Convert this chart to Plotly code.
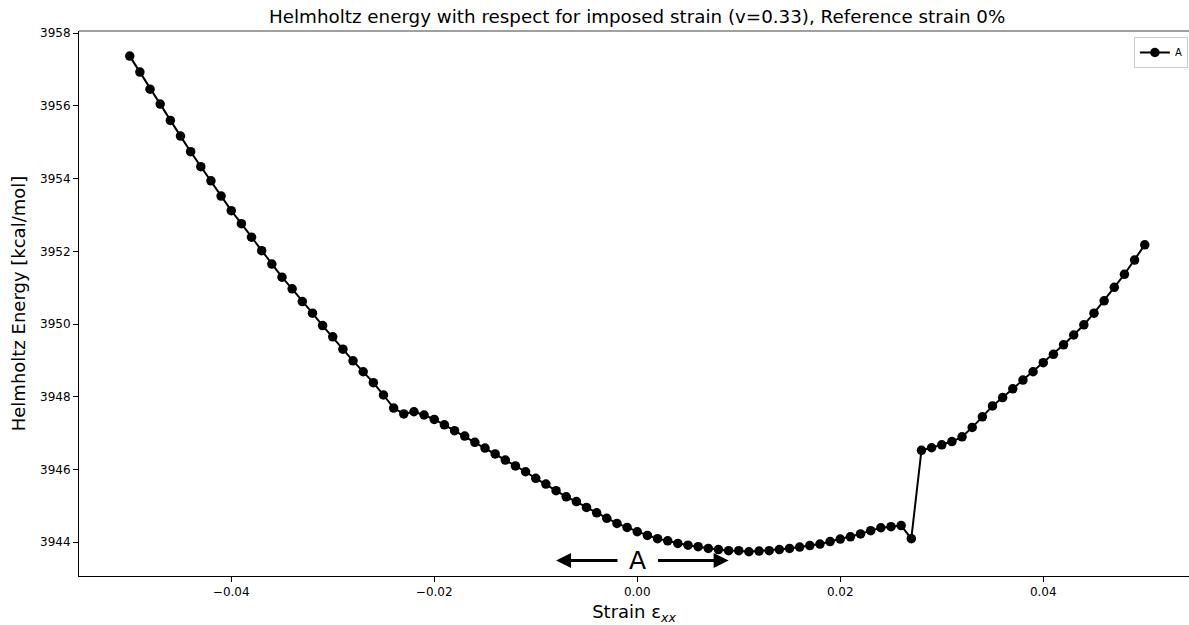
import plotly.graph_objects as go

# Imposed strain (exx) and Helmholtz energy [kcal/mol]
strain = [
    -0.050, -0.049, -0.048, -0.047, -0.046, -0.045, -0.044, -0.043, -0.042, -0.041,
    -0.040, -0.039, -0.038, -0.037, -0.036, -0.035, -0.034, -0.033, -0.032, -0.031,
    -0.030, -0.029, -0.028, -0.027, -0.026, -0.025, -0.024, -0.023, -0.022, -0.021,
    -0.020, -0.019, -0.018, -0.017, -0.016, -0.015, -0.014, -0.013, -0.012, -0.011,
    -0.010, -0.009, -0.008, -0.007, -0.006, -0.005, -0.004, -0.003, -0.002, -0.001,
    0.000, 0.001, 0.002, 0.003, 0.004, 0.005, 0.006, 0.007, 0.008, 0.009,
    0.010, 0.011, 0.012, 0.013, 0.014, 0.015, 0.016, 0.017, 0.018, 0.019,
    0.020, 0.021, 0.022, 0.023, 0.024, 0.025, 0.026, 0.027, 0.028, 0.029,
    0.030, 0.031, 0.032, 0.033, 0.034, 0.035, 0.036, 0.037, 0.038, 0.039,
    0.040, 0.041, 0.042, 0.043, 0.044, 0.045, 0.046, 0.047, 0.048, 0.049,
    0.050,
]

energy_A = [
    3957.37, 3956.93, 3956.46, 3956.05, 3955.60, 3955.17, 3954.74, 3954.33, 3953.94, 3953.52,
    3953.12, 3952.76, 3952.39, 3952.02, 3951.65, 3951.29, 3950.97, 3950.62, 3950.30, 3949.96,
    3949.65, 3949.31, 3948.99, 3948.69, 3948.39, 3948.05, 3947.69, 3947.53, 3947.59, 3947.50,
    3947.38, 3947.23, 3947.07, 3946.92, 3946.75, 3946.59, 3946.43, 3946.26, 3946.10, 3945.94,
    3945.76, 3945.60, 3945.42, 3945.25, 3945.12, 3944.96, 3944.81, 3944.66, 3944.52, 3944.41,
    3944.29, 3944.19, 3944.10, 3944.04, 3943.97, 3943.92, 3943.88, 3943.83, 3943.80, 3943.77,
    3943.77, 3943.74, 3943.76, 3943.77, 3943.80, 3943.83, 3943.87, 3943.91, 3943.95, 3944.02,
    3944.09, 3944.15, 3944.23, 3944.32, 3944.40, 3944.43, 3944.46, 3944.10, 3946.53, 3946.60,
    3946.68, 3946.77, 3946.90, 3947.16, 3947.45, 3947.75, 3947.98, 3948.22, 3948.46, 3948.69,
    3948.94, 3949.17, 3949.43, 3949.70, 3949.98, 3950.30, 3950.64, 3951.01, 3951.37, 3951.76,
    3952.18,
]

x_ticks = [-0.04, -0.02, 0.00, 0.02, 0.04]
x_tick_labels = ["\u22120.04", "\u22120.02", "0.00", "0.02", "0.04"]
y_ticks = [3944, 3946, 3948, 3950, 3952, 3954, 3956, 3958]
y_tick_labels = [str(v) for v in y_ticks]

FONT = "DejaVu Sans"

fig = go.Figure()
fig.add_trace(go.Scatter(
    x=strain, y=energy_A, mode="lines+markers", name="A",
    line=dict(color="black", width=2),
    marker=dict(color="black", size=9.5, symbol="circle"),
))

# Range marker "A" with arrows either side
arrow_y = 3943.5
fig.add_annotation(x=0.0, y=arrow_y, xref="x", yref="y", text="A", showarrow=False,
                   font=dict(family=FONT, size=25, color="black"))
for tail, tip in [(-0.0018, -0.008), (0.0019, 0.009)]:
    fig.add_annotation(x=tip, y=arrow_y, ax=tail, ay=arrow_y, xref="x", yref="y",
                       axref="x", ayref="y", text="", showarrow=True,
                       arrowhead=2, arrowsize=1, arrowwidth=3, arrowcolor="black",
                       standoff=0, startstandoff=0)

# Title centred over the axes
fig.add_annotation(x=0.0, y=1, xref="x", yref="paper", yanchor="bottom", yshift=2,
                   text="Helmholtz energy with respect for imposed strain (v=0.33), Reference strain 0%",
                   showarrow=False, font=dict(family=FONT, size=18.3, color="black"))

# Top frame line
fig.add_shape(type="line", xref="paper", yref="paper", x0=0, x1=1, y0=1, y1=1,
              line=dict(color="#808080", width=1.5))

fig.update_layout(
    width=1189, height=625,
    margin=dict(l=79, r=0, t=31, b=49),
    paper_bgcolor="white", plot_bgcolor="white",
    font=dict(family=FONT, color="black"),
    showlegend=True,
    legend=dict(x=0.999, y=0.989, xanchor="right", yanchor="top",
                bgcolor="white", bordercolor="#cccccc", borderwidth=1,
                font=dict(family=FONT, size=10, color="black"),
                tracegroupgap=0),
    xaxis=dict(
        range=[-0.055, 0.05436], tickvals=x_ticks, ticktext=x_tick_labels,
        showgrid=False, zeroline=False, showline=True, linecolor="black", linewidth=1,
        ticks="outside", ticklen=5, tickwidth=1, tickcolor="black",
        tickfont=dict(family=FONT, size=12, color="black"),
        title=dict(text="Strain \u03b5<sub><i>xx</i></sub>", standoff=7,
                   font=dict(family=FONT, size=18, color="black")),
    ),
    yaxis=dict(
        range=[3943.073, 3958.06], tickvals=y_ticks, ticktext=y_tick_labels,
        showgrid=False, zeroline=False, showline=True, linecolor="black", linewidth=1,
        ticks="outside", ticklen=5, tickwidth=1, tickcolor="black",
        tickfont=dict(family=FONT, size=12, color="black"),
        title=dict(text="Helmholtz Energy [kcal/mol]", standoff=9,
                   font=dict(family=FONT, size=18, color="black")),
    ),
)

fig.write_html("out.html", config={"displayModeBar": False})
